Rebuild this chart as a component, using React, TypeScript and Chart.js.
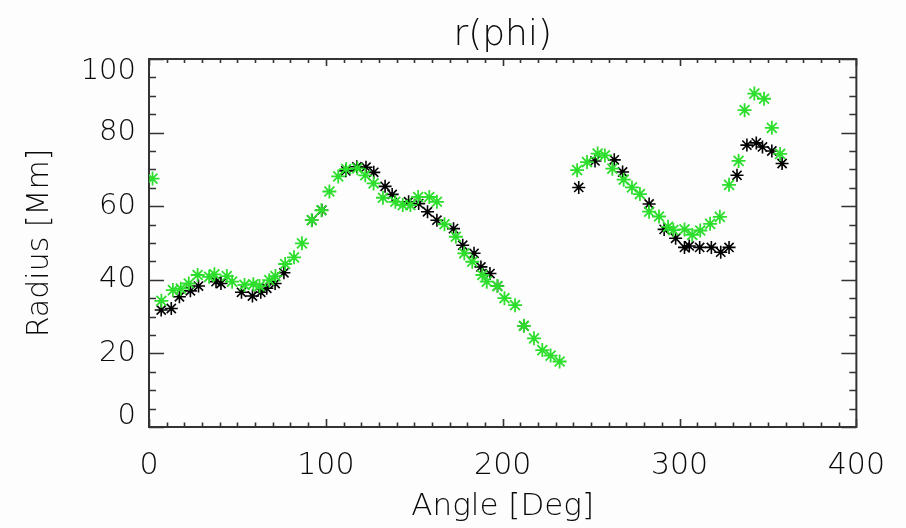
import { useEffect, useRef } from "react";
import { Chart, registerables } from "chart.js";

Chart.register(...registerables);

// ---- data ----
const greenAngles = [
  2, 7, 13.5, 18, 22.5, 27.5, 34, 37, 44, 47, 54, 59, 62.5, 68, 71.5, 77, 82, 86.5,
  92, 97.5, 102, 107, 111.5, 117.8, 122.3, 127, 132.3, 139.3, 143.5, 147.8, 152.2,
  158.5, 162.8, 167.1, 173.5, 178.3, 182.8, 188.5, 191, 197, 201, 207, 212, 217.7,
  222.4, 227.1, 232.2, 242.1, 247.7, 253.7, 257.8, 262, 268.4, 273.1, 277.6, 282.8,
  288.4, 293.5, 296.5, 302.8, 307.2, 311.7, 317.3, 322.8, 328, 333.4, 336.8, 342.3,
  347.8, 352.2, 356.9,
];
const greenRadii = [
  67.5, 34.3, 37.2, 37.6, 39.0, 41.3, 40.8, 41.5, 41.0, 39.5, 38.6, 38.8, 38.3, 39.9,
  41.0, 44.3, 46.1, 49.9, 56.2, 58.9, 64.0, 68.1, 70.1, 70.3, 68.4, 66.2, 62.3, 61.2,
  60.3, 60.3, 62.5, 62.5, 61.2, 55.1, 51.7, 47.2, 44.9, 41.3, 39.5, 38.3, 35.0, 33.1,
  27.5, 24.1, 20.9, 19.4, 17.8, 69.8, 72.0, 74.3, 73.8, 70.2, 67.2, 65.1, 63.3, 58.5,
  57.2, 54.4, 53.5, 53.7, 52.2, 53.4, 55.2, 57.1, 65.8, 72.3, 86.1, 90.6, 89.2, 81.3,
  74.2,
];
const blackAngles = [
  6.9, 12.6, 17.2, 23.4, 28, 37.9, 40.7, 52.3, 58.5, 63.2, 66.6, 71.3, 76.3, 92.1,
  97.7, 111.3, 117.5, 122.7, 127.1, 133.5, 137.5, 146.8, 152.5, 157.5, 162.8, 172.2,
  177.4, 183.8, 187.7, 192.8, 197.1, 211.9, 243.0, 252.2, 263.1, 267.8, 282.8, 291.3,
  297.8, 302.8, 305.5, 311.4, 318, 323.3, 328, 332.5, 338.1, 343.4, 346.9, 352.2, 358,
];
const blackRadii = [
  31.8, 32.2, 35.4, 37.0, 38.3, 39.5, 39.0, 36.6, 35.6, 36.6, 37.7, 39.0, 41.9, 56.2,
  58.9, 69.6, 70.7, 70.6, 69.2, 65.4, 63.2, 61.2, 60.7, 58.5, 56.2, 53.9, 49.4, 47.2,
  43.5, 41.7, 38.3, 27.5, 65.1, 72.3, 72.6, 69.3, 60.6, 53.7, 51.3, 48.8, 49.2, 48.8,
  48.8, 47.5, 48.8, 68.4, 76.6, 77.2, 76.1, 75.0, 71.6,
];

const xTickValues = [0, 100, 200, 300, 400];
const yTickValues = [0, 20, 40, 60, 80, 100];
const xMinorStep = 10;
const yMinorStep = 5;

const chartTitle = "r(phi)";
const xTitle = "Angle [Deg]";
const yTitle = "Radius [Mm]";

const FONT = "'DejaVu Sans', 'Liberation Sans', sans-serif";
const WEIGHT = "200";
const TEXT = "#0a0a0a";
const AXIS = "#333333";

const idlFrame = {
  id: "idlFrame",
  beforeDatasetsDraw(chart: any) {
    const { ctx, chartArea: a } = chart;
    const xs = chart.scales.x;
    const ys = chart.scales.y;
    ctx.save();
    ctx.strokeStyle = AXIS;
    ctx.lineWidth = 2;
    ctx.strokeRect(a.left, a.top, a.right - a.left, a.bottom - a.top);
    ctx.lineWidth = 1.6;
    ctx.beginPath();
    const xMin = xTickValues[0];
    const xMax = xTickValues[xTickValues.length - 1];
    for (let v = xMin; v <= xMax + 1e-9; v += xMinorStep) {
      const major = xTickValues.includes(v);
      const p = Math.round(xs.getPixelForValue(v)) + 0.5;
      const lb = major ? 8 : 4.5;
      const lt = major ? 7 : 4;
      ctx.moveTo(p, a.bottom);
      ctx.lineTo(p, a.bottom - lb);
      ctx.moveTo(p, a.top);
      ctx.lineTo(p, a.top + lt);
    }
    const yMin = yTickValues[0];
    const yMax = yTickValues[yTickValues.length - 1];
    for (let v = yMin; v <= yMax + 1e-9; v += yMinorStep) {
      const major = yTickValues.includes(v);
      const p = Math.round(ys.getPixelForValue(v)) + 0.5;
      const l = major ? 15 : 7;
      ctx.moveTo(a.left, p);
      ctx.lineTo(a.left + l, p);
      ctx.moveTo(a.right, p);
      ctx.lineTo(a.right - l, p);
    }
    ctx.stroke();

    // y tick labels, kept inside the height of the frame
    ctx.fillStyle = TEXT;
    ctx.font = `${WEIGHT} 29px ${FONT}`;
    ctx.textAlign = "right";
    ctx.textBaseline = "middle";
    for (const v of yTickValues) {
      const p = ys.getPixelForValue(v);
      const c = Math.min(Math.max(p, a.top + 12), a.bottom - 11);
      ctx.fillText(String(v), a.left - 13, c);
    }
    ctx.restore();
  },
};

export default function App() {
  const ref = useRef<HTMLCanvasElement | null>(null);

  useEffect(() => {
    if (!ref.current) return;
    const chart = new Chart(ref.current, {
      type: "scatter",
      data: {
        datasets: [
          {
            label: "green",
            data: greenAngles.map((a, i) => ({ x: a, y: greenRadii[i] })),
            pointStyle: "star",
            pointRadius: 7,
            pointBorderWidth: 1.8,
            borderColor: "rgb(45,222,45)",
            backgroundColor: "rgb(45,222,45)",
            order: 0,
          },
          {
            label: "black",
            data: blackAngles.map((a, i) => ({ x: a, y: blackRadii[i] })),
            pointStyle: "star",
            pointRadius: 6.5,
            pointBorderWidth: 1.6,
            borderColor: "#000000",
            backgroundColor: "#000000",
            order: 1,
          },
        ],
      },
      options: {
        animation: false,
        responsive: false,
        maintainAspectRatio: false,
        layout: { padding: { left: 0, right: 46, top: 0, bottom: 0 } },
        plugins: {
          legend: { display: false },
          tooltip: { enabled: false },
          title: { display: false },
        },
        scales: {
          x: {
            type: "linear",
            position: "bottom",
            min: xTickValues[0],
            max: xTickValues[xTickValues.length - 1],
            ticks: {
              stepSize: xTickValues[1] - xTickValues[0],
              color: TEXT,
              font: { family: FONT, size: 30, weight: WEIGHT },
              padding: 21,
              maxRotation: 0,
              autoSkip: false,
            },
            grid: { display: false, drawTicks: false },
            border: { display: false },
            title: {
              display: true,
              text: xTitle,
              color: TEXT,
              font: { family: FONT, size: 31, weight: WEIGHT },
              padding: { top: 0, bottom: 2 },
            },
            afterFit: (s: any) => {
              s.height = 101;
            },
          },
          x2: {
            type: "linear",
            position: "top",
            min: xTickValues[0],
            max: xTickValues[xTickValues.length - 1],
            ticks: { display: false },
            grid: { display: false, drawTicks: false },
            border: { display: false },
            title: {
              display: true,
              text: chartTitle,
              color: TEXT,
              font: { family: FONT, size: 36, weight: WEIGHT },
              padding: { top: 14, bottom: 0 },
            },
            afterFit: (s: any) => {
              s.height = 59;
            },
          },
          y: {
            type: "linear",
            position: "left",
            min: yTickValues[0],
            max: yTickValues[yTickValues.length - 1],
            ticks: { display: false, stepSize: yTickValues[1] - yTickValues[0] },
            grid: { display: false, drawTicks: false },
            border: { display: false },
            title: {
              display: true,
              text: yTitle,
              color: TEXT,
              font: { family: FONT, size: 30, weight: WEIGHT },
              padding: { top: 22, bottom: 0 },
            },
            afterFit: (s: any) => {
              s.width = 149;
            },
          },
        },
      },
      plugins: [idlFrame],
    });
    return () => chart.destroy();
  }, []);

  return (
    <div style={{ position: "fixed", left: 0, top: 0, width: 906, height: 528, background: "#fdfdfd" }}>
      <canvas ref={ref} width={906} height={528} style={{ display: "block", width: 906, height: 528 }} />
    </div>
  );
}
